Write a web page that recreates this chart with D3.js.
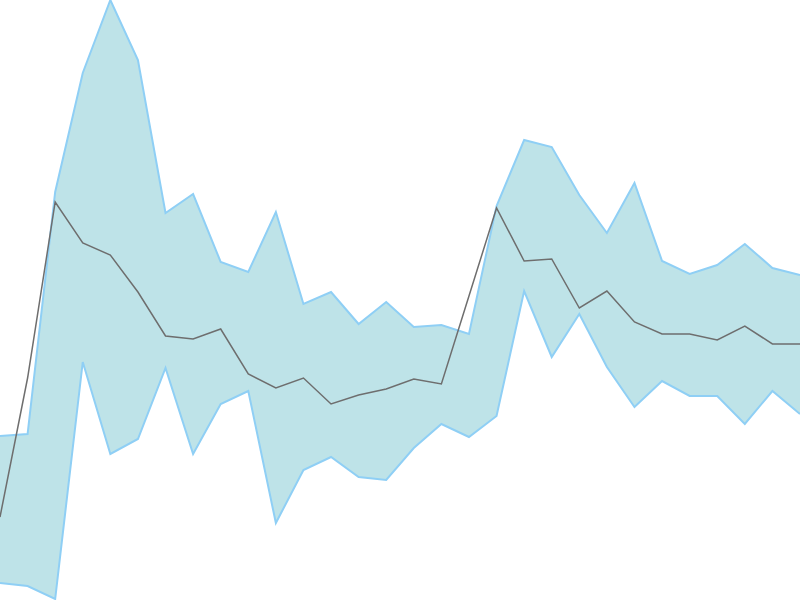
<!DOCTYPE html>
<html>
<head>
<meta charset="utf-8">
<script src="https://cdn.jsdelivr.net/npm/d3@7"></script>
<style>
  body { margin: 0; background: #fff; }
</style>
</head>
<body>
<div id="container"></div>
<script>
// values (0 = bottom, 600 = top)
const upper = [164, 166, 408, 527, 600, 540, 387, 406, 338, 328, 388, 296, 308, 276, 298, 273, 275, 266, 394, 460, 453, 405, 367, 417, 339, 326, 335, 356, 332, 325];
const lower = [17, 14, 1, 238, 146, 161, 232, 146, 196, 209, 77, 130, 143, 123, 120, 152, 176, 163, 184, 309, 243, 286, 233, 193, 219, 204, 204, 176, 209, 186];
const middle = [83, 222, 398, 357, 345, 308, 264, 261, 271, 226, 212, 222, 196, 205, 211, 221, 216, 304, 392, 339, 341, 292, 309, 278, 266, 266, 260, 274, 256, 256];

const w = 800;
const h = 600;

const points = upper.map((u, i) => ({ i: i, hi: u, lo: lower[i], mid: middle[i] }));

const svg = d3
  .select('#container')
  .append('svg')
  .attr('width', w)
  .attr('height', h);

const xScale = d3.scaleLinear().domain([0, points.length - 1]).range([0, w]);
const yScale = d3.scaleLinear().domain([0, 600]).range([h, 0]);

const area = d3
  .area()
  .x(d => xScale(d.i))
  .y0(d => yScale(d.lo))
  .y1(d => yScale(d.hi));

svg
  .append('path')
  .datum(points)
  .attr('d', area)
  .attr('fill', '#bee3e8');

['hi', 'lo'].forEach(key => {
  svg
    .append('path')
    .datum(points)
    .attr('d', d3.line().x(d => xScale(d.i)).y(d => yScale(d[key])))
    .attr('fill', 'none')
    .attr('stroke', '#8fcff5')
    .attr('stroke-width', 2);
});

svg
  .append('path')
  .datum(points)
  .attr('d', d3.line().x(d => xScale(d.i)).y(d => yScale(d.mid)))
  .attr('fill', 'none')
  .attr('stroke', '#6e6e6e')
  .attr('stroke-width', 1.5);
</script>
</body>
</html>
